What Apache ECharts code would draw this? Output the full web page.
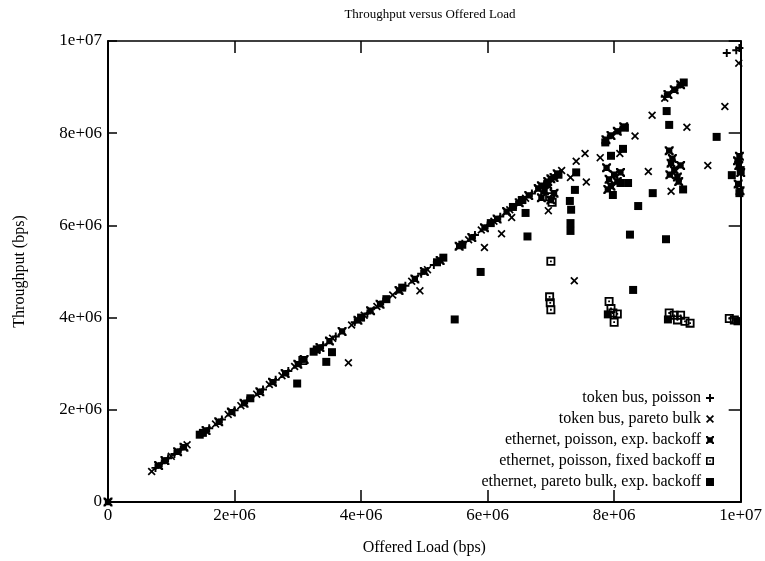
<!DOCTYPE html>
<html>
<head>
    <meta charset="utf-8">
    <title>Throughput versus Offered Load</title>
    <script src="https://cdn.jsdelivr.net/npm/echarts@6/dist/echarts.min.js"></script>
    <style>
        body { margin: 0; background: #fff; }
    </style>
</head>
<body>
<div id="main" style="width: 765px;height:561px;"></div>
<script type="text/javascript">
    // values in units of 1e6 bps: [offered load, throughput]
    var tokenPoisson = [
        [0.75,0.74],[0.85,0.84],[0.95,0.95],[1.05,1.04],[1.15,1.14],[1.6,1.6],[1.8,1.79],[2.0,1.99],
        [2.2,2.2],[2.45,2.44],[2.65,2.65],[2.85,2.84],[3.05,3.04],[3.4,3.4],[3.6,3.59],[3.9,3.9],
        [4.1,4.09],[4.35,4.35],[4.7,4.69],[4.95,4.95],[5.15,5.14],[5.6,5.6],[5.8,5.79],[6.0,6.0],
        [6.2,6.19],[6.45,6.44],[6.7,6.69],[6.9,6.9],[7.1,7.09],[7.9,7.89],[8.1,8.08],[8.8,8.79],
        [9.0,8.99],[9.78,9.74],[9.98,9.85],[9.93,9.8]
    ];
    var tokenPareto = [
        [0.69,0.66],[0.9,0.89],[1.0,0.99],[1.25,1.24],[1.7,1.69],[1.9,1.9],[2.1,2.09],[2.35,2.34],
        [2.55,2.55],[2.75,2.74],[2.95,2.94],[3.3,3.29],[3.55,3.55],[3.85,3.84],[4.05,4.05],[4.25,4.24],
        [4.5,4.49],[4.8,4.79],[5.05,5.04],[5.7,5.69],[5.9,5.9],[6.1,6.09],[6.35,6.34],[6.6,6.59],
        [6.8,6.79],[7.17,7.19],[7.4,7.39],[7.54,7.56],[8.8,8.76],
        [3.8,3.02],[4.93,4.58],[5.95,5.52],[6.22,5.82],[6.38,6.17],[6.96,6.32],[7.37,4.8],[7.31,7.04],
        [7.56,6.94],[7.78,7.47],[8.09,7.56],[8.33,7.94],[8.6,8.39],[8.54,7.17],[8.9,6.74],[9.15,8.13],
        [9.48,7.3],[9.75,8.58],[9.97,9.52]
    ];
    var etherPoissonExp = [
        [0,0],[0.8,0.79],[0.9,0.9],[1.1,1.09],[1.2,1.19],[1.55,1.55],[1.75,1.74],[1.95,1.95],[2.15,2.14],
        [2.4,2.39],[2.6,2.6],[2.8,2.79],[3.0,2.99],[3.1,3.09],[3.35,3.35],[3.5,3.49],[3.7,3.7],
        [3.95,3.94],[4.15,4.15],[4.3,4.29],[4.6,4.59],[4.85,4.84],[5.0,5.0],[5.25,5.24],[5.55,5.55],
        [5.75,5.74],[5.95,5.95],[6.15,6.14],[6.3,6.3],[6.5,6.49],[6.65,6.65],[6.8,6.8],[6.85,6.86],
        [6.95,6.95],[7.0,7.01],[7.05,7.04],[7.1,7.12],[7.87,7.86],[7.95,7.95],[8.05,8.04],[8.15,8.14],
        [8.85,8.84],[8.95,8.94],[9.05,9.05],
        [6.85,6.6],[6.9,6.75],[7.0,6.55],[6.95,6.88],[7.05,6.7],[7.88,7.25],[7.92,7.0],[7.95,6.85],
        [8.0,7.1],[8.05,6.95],[7.9,6.78],[8.1,7.15],[8.87,7.62],[8.9,7.35],[8.95,7.2],[9.0,7.05],
        [8.92,7.45],[9.05,7.3],[9.02,6.95],[8.88,7.1],[9.98,7.5],[9.97,7.3],[10.0,7.15],[9.96,6.9],
        [9.99,6.75],[9.95,7.4]
    ];
    var etherPoissonFixed = [
        [3.08,3.07],[6.98,6.62],[7.02,6.5],[7.0,5.22],[6.98,4.45],[6.99,4.32],[7.0,4.17],[7.92,4.35],
        [7.95,4.2],[7.98,4.1],[8.05,4.08],[8.0,3.9],[8.87,4.1],[8.95,4.05],[9.05,4.05],[9.0,3.95],
        [9.12,3.92],[9.2,3.88],[9.82,3.98],[9.9,3.95]
    ];
    var etherParetoExp = [
        [1.45,1.46],[1.5,1.5],[2.25,2.25],[3.25,3.26],[3.3,3.31],[4.0,4.0],[4.4,4.4],[4.65,4.65],
        [5.2,5.2],[5.3,5.3],[5.6,5.58],[6.05,6.05],[6.4,6.4],[6.55,6.55],[7.12,7.1],[7.86,7.8],
        [8.17,8.12],[9.1,9.1],
        [2.99,2.57],[3.45,3.04],[3.54,3.25],[5.48,3.96],[5.89,4.99],[6.63,5.76],[6.6,6.27],[6.54,6.55],
        [7.31,6.05],[7.31,5.88],[7.32,6.34],[7.3,6.53],[7.38,6.77],[7.4,7.15],[7.95,7.51],[8.14,7.66],
        [8.22,6.92],[8.1,6.92],[7.98,6.66],[8.61,6.7],[8.38,6.42],[8.25,5.8],[8.82,5.7],[8.3,4.6],
        [8.83,8.48],[8.87,8.18],[9.09,6.78],[9.62,7.92],[9.86,7.09],[10.0,7.2],[9.98,6.7],[9.95,3.92],
        [7.9,4.07],[8.85,3.96]
    ];
    var seriesNames = [
        'token bus, poisson',
        'token bus, pareto bulk',
        'ethernet, poisson, exp. backoff',
        'ethernet, poisson, fixed backoff',
        'ethernet, pareto bulk, exp. backoff'
    ];

    var plusIcon = 'path://M3.8,0H6.2V3.8H10V6.2H6.2V10H3.8V6.2H0V3.8H3.8Z';
    var crossIcon = 'path://M0,1.5L1.5,0L5,3.5L8.5,0L10,1.5L6.5,5L10,8.5L8.5,10L5,6.5L1.5,10L0,8.5L3.5,5Z';
    var starSqIcon = 'path://M1.5,1.5H8.5V8.5H1.5Z M0,0L2,0L5,3L8,0L10,0L10,2L7,5L10,8L10,10L8,10L5,7L2,10L0,10L0,8L3,5L0,2Z';
    var hollowIcon = 'path://M0,0H10V10H0Z M2,2V8H8V2Z M4,4H6V6H4Z';
    var squareIcon = 'path://M0,0H10V10H0Z';

    var toBps = function (arr) {
        return arr.map(function (p) { return [p[0] * 1e6, p[1] * 1e6]; });
    };
    var fmt = function (v) {
        if (v === 0) return '0';
        if (v >= 1e7) return '1e+07';
        return (v / 1e6) + 'e+06';
    };

    var font = 'Liberation Serif';
    var allData = [tokenPoisson, tokenPareto, etherPoissonExp, etherPoissonFixed, etherParetoExp];
    var icons = [plusIcon, crossIcon, starSqIcon, hollowIcon, squareIcon];
    var sizes = [8, 8, 9, 9, 8];

    var series = [];
    allData.forEach(function (d, i) {
        series.push({
            name: seriesNames[i],
            type: 'scatter',
            data: toBps(d),
            symbol: icons[i],
            symbolSize: sizes[i],
            itemStyle: { color: '#000', opacity: 1 },
            clip: false,
            silent: true
        });
    });

    var myChart = echarts.init(document.getElementById('main'));
    var axisCommon = {
        type: 'value',
        min: 0,
        max: 1e7,
        interval: 2e6,
        splitLine: { show: false },
        axisLine: { show: true, onZero: false, lineStyle: { color: '#000', width: 2 } }
    };
    var option = {
        animation: false,
        backgroundColor: '#fff',
        title: {
            text: 'Throughput versus Offered Load',
            left: 425,
            top: 3,
            textAlign: 'center',
            textStyle: { fontFamily: font, fontSize: 13, fontWeight: 'normal', color: '#000' }
        },
        grid: { left: 108, right: 22, top: 41, bottom: 53 },
        legend: {
            orient: 'vertical',
            right: 46,
            top: 385,
            align: 'right',
            itemWidth: 8,
            itemHeight: 8,
            itemGap: 5,
            textStyle: { fontFamily: font, fontSize: 16, color: '#000' },
            data: seriesNames.map(function (n, i) {
                return { name: n, icon: icons[i] };
            })
        },
        xAxis: [
            Object.assign({}, axisCommon, {
                position: 'bottom',
                name: 'Offered Load (bps)',
                nameLocation: 'middle',
                nameGap: 38,
                nameTextStyle: { fontFamily: font, fontSize: 16, color: '#000' },
                axisTick: { show: true, inside: true, length: 12, lineStyle: { color: '#000', width: 1.5 } },
                axisLabel: { formatter: fmt, fontFamily: font, fontSize: 17, color: '#000', margin: 5 }
            }),
            Object.assign({}, axisCommon, {
                position: 'top',
                axisLine: { show: true, onZero: false, lineStyle: { color: '#000', width: 1.5 } },
                axisTick: { show: true, inside: true, length: 12, lineStyle: { color: '#000', width: 1.5 } },
                axisLabel: { show: false }
            })
        ],
        yAxis: [
            Object.assign({}, axisCommon, {
                position: 'left',
                name: 'Throughput (bps)',
                nameLocation: 'middle',
                nameGap: 80,
                nameRotate: 90,
                nameTextStyle: { fontFamily: font, fontSize: 16, color: '#000' },
                axisTick: { show: true, inside: true, length: 9, lineStyle: { color: '#000', width: 1.5 } },
                axisLabel: { formatter: fmt, fontFamily: font, fontSize: 17, color: '#000', margin: 6 }
            }),
            Object.assign({}, axisCommon, {
                position: 'right',
                axisLine: { show: true, onZero: false, lineStyle: { color: '#000', width: 2 } },
                axisTick: { show: true, inside: true, length: 12, lineStyle: { color: '#000', width: 1.5 } },
                axisLabel: { show: false }
            })
        ],
        series: series
    };
    myChart.setOption(option);
</script>
</body>
</html>
